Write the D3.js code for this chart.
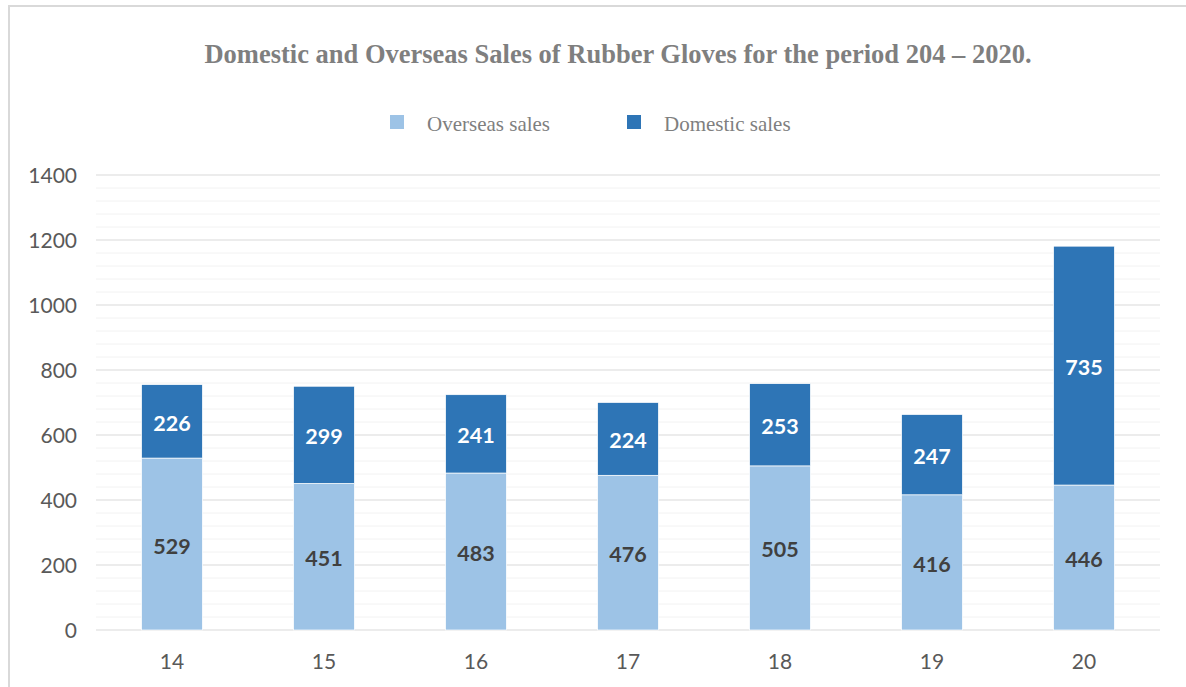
<!DOCTYPE html>
<html><head><meta charset="utf-8">
<script src="https://cdn.jsdelivr.net/npm/d3@7"></script>
<style>body{margin:0;background:#fff;}svg{display:block;}</style>
</head><body>
<svg id="chart" width="1186" height="687"></svg>
<script>
const categories = ["14","15","16","17","18","19","20"];
const overseas = [529,451,483,476,505,416,446];
const domestic = [226,299,241,224,253,247,735];
const seriesNames = ["Overseas sales","Domestic sales"];
const seriesColors = ["#9dc3e6","#2e75b6"];
const labelColors = ["#404040","#ffffff"];
const yTicks = [0,200,400,600,800,1000,1200,1400];
const title = "Domestic and Overseas Sales of Rubber Gloves for the period 204 \u2013 2020.";

const svg = d3.select("#chart");
// frame
svg.append("rect").attr("x",9).attr("y",6).attr("width",1186).attr("height",700)
  .attr("fill","none").attr("stroke","#d9d9d9").attr("stroke-width",2);

const m = {left:96,right:1160,top:175,bottom:630};
const x = d3.scaleBand().domain(categories).range([m.left,m.right]).paddingInner(0.6).paddingOuter(0.3);
const y = d3.scaleLinear().domain([0,1400]).range([m.bottom,m.top]);

// minor grid
const minor = d3.range(0,1401,40).filter(v=>v%200!==0);
svg.append("g").selectAll("line").data(minor).join("line")
  .attr("x1",m.left).attr("x2",m.right).attr("y1",d=>y(d)).attr("y2",d=>y(d))
  .attr("stroke","#f2f2f2").attr("stroke-width",1);
// major grid
svg.append("g").selectAll("line").data(yTicks).join("line")
  .attr("x1",m.left).attr("x2",m.right).attr("y1",d=>y(d)).attr("y2",d=>y(d))
  .attr("stroke","#d9d9d9").attr("stroke-width",1);

const tickFont = "Lato, 'Open Sans', sans-serif";
// y axis labels
const yAxis = d3.axisLeft(y).tickValues(yTicks).tickFormat(d3.format("d")).tickSize(0).tickPadding(0);
const ya = svg.append("g").attr("transform",`translate(${m.left-19},0)`).call(yAxis);
ya.select(".domain").remove();
ya.selectAll("text").attr("font-family",tickFont).attr("font-size",21).attr("fill","#595959").attr("dy","0.35em");

// x axis labels
const xAxis = d3.axisBottom(x).tickSize(0).tickPadding(0);
const xa = svg.append("g").attr("transform",`translate(0,${m.bottom+24})`).call(xAxis);
xa.select(".domain").remove();
xa.selectAll("text").attr("font-family",tickFont).attr("font-size",21).attr("fill","#595959").attr("dy","0.71em");

// stacked data
const rows = categories.map((c,i)=>({cat:c, overseas:overseas[i], domestic:domestic[i]}));
const stack = d3.stack().keys(["overseas","domestic"])(rows);

stack.forEach((s,si)=>{
  const g = svg.append("g");
  g.selectAll("rect").data(s).join("rect")
    .attr("x",d=>x(d.data.cat)).attr("width",x.bandwidth())
    .attr("y",d=>y(d[1])).attr("height",d=>y(d[0])-y(d[1]))
    .attr("fill",seriesColors[si]).attr("stroke","#ffffff").attr("stroke-width",0.7);
  g.selectAll("text").data(s).join("text")
    .attr("x",d=>x(d.data.cat)+x.bandwidth()/2)
    .attr("y",d=>y((d[0]+d[1])/2)+2)
    .attr("dy","0.35em").attr("text-anchor","middle")
    .attr("font-family",tickFont).attr("font-weight","bold").attr("font-size",21.5)
    .attr("fill",labelColors[si])
    .text(d=>d[1]-d[0]);
});

// title
svg.append("text").attr("x",618).attr("y",63).attr("text-anchor","middle")
  .attr("font-family","'Liberation Serif', 'Times New Roman', serif").attr("font-weight","bold")
  .attr("font-size",26.5).attr("fill","#7f7f7f").text(title);

// legend
const legX = [390,627];
seriesNames.forEach((n,i)=>{
  svg.append("rect").attr("x",legX[i]).attr("y",115).attr("width",14).attr("height",14).attr("fill",seriesColors[i]);
  svg.append("text").attr("x",legX[i]+37).attr("y",131)
    .attr("font-family","'Liberation Serif', 'Times New Roman', serif").attr("font-size",21)
    .attr("fill","#7f7f7f").text(n);
});
</script>
</body></html>
